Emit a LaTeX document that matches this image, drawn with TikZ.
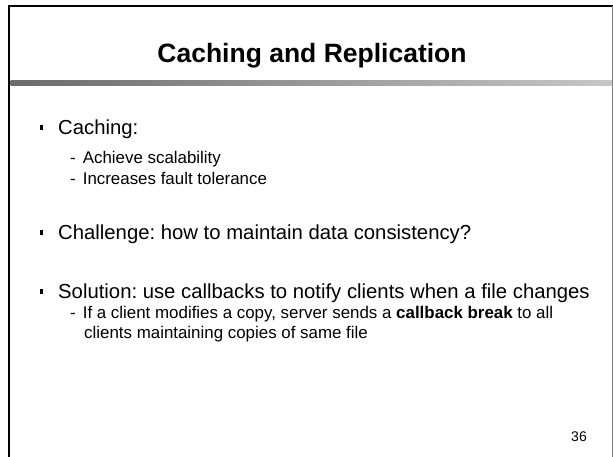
\documentclass[tikz,border=0pt]{standalone}
\usepackage{fontspec}
\setmainfont{Liberation Sans}
\usepackage{tikz}
\usetikzlibrary{positioning}
\tikzset{
  slide/.style={x=1pt, y=-1pt},
  ttl/.style={anchor=base, inner sep=0pt, font=\fontsize{26.5}{30}\selectfont\bfseries},
  lvlone/.style={anchor=base west, inner sep=0pt, font=\fontsize{20.3}{24}\selectfont},
  lvltwo/.style={anchor=base west, inner sep=0pt, font=\fontsize{16.9}{20}\selectfont},
  sq/.style={fill=black, inner sep=0pt, minimum width=3pt, minimum height=5pt},
  pgno/.style={anchor=base east, inner sep=0pt, font=\fontsize{14}{16}\selectfont}
}

\begin{document}
\frenchspacing
\begin{tikzpicture}[slide]
\useasboundingbox (0,0) rectangle (613,457);
% frame and header bar
\draw[line width=2.5pt] (9,457) -- (9,6) -- (613,6);
\draw[gray, line width=1pt] (612,6) -- (612,457);
\shade[left color=black!58, right color=black!22] (10.5,81) rectangle (611.5,86);
\node[ttl] (title) at (312,63) {Caching and Replication};
% bullets
\node[lvlone] (caching) at (58,135) {Caching:};
\node[sq] (b1) at (41,128) {};
\node[lvltwo] (s1) at (70,164) {-\hspace{7pt}Achieve scalability};
\node[lvltwo] (s2) at (70,185) {-\hspace{7pt}Increases fault tolerance};
\node[lvlone] (challenge) at (58,240) {Challenge: how to maintain data consistency?};
\node[sq] (b2) at (41,233) {};
\node[lvlone] (solution) at (58,298) {Solution: use callbacks to notify clients when a file changes};
\node[sq] (b3) at (41,291) {};
\node[lvltwo] (s3) at (70,318) {-\hspace{7pt}If a client modifies a copy, server sends a \textbf{callback break} to all};
\node[lvltwo] (s4) at (84,338) {clients maintaining copies of same file};
\node[pgno] (page) at (587,441) {36};
\end{tikzpicture}
\end{document}
